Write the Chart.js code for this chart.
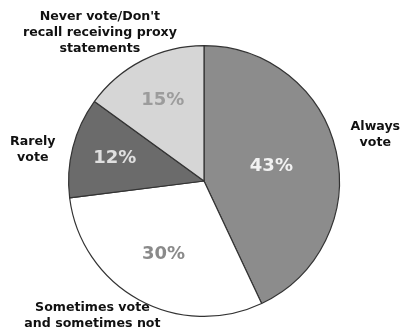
<!DOCTYPE html>
<html>
<head>
<meta charset="utf-8">
<script src="https://cdn.jsdelivr.net/npm/chart.js@4/dist/chart.umd.min.js"></script>
<style>
html,body{margin:0;padding:0;background:#fff;}
#c{display:block;}
</style>
</head>
<body>
<canvas id="c" width="403" height="336"></canvas>
<script>
// Data
const categories = [
  ["Always", "vote"],
  ["Sometimes vote", "and sometimes not"],
  ["Rarely", "vote"],
  ["Never vote/Don't", "recall receiving proxy", "statements"]
];
const values = [43, 30, 12, 15];
const valueLabels = ["43%", "30%", "12%", "15%"];

// Styles
const sliceColors = ["#8c8c8c", "#ffffff", "#6b6b6b", "#d6d6d6"];
const pctColors = ["#f2f2f2", "#8a8a8a", "#e0e0e0", "#9c9c9c"];
// inner label placement: radial distance factor along slice mid-angle
const pctDist = [0.51, 0.62, 0.68, 0.67];
// outer label placement: angle (deg clockwise from top), distance factor
const outerPos = [[75, 1.31], [219.7, 1.29], [280.2, 1.285], [325, 1.34]];

const labelPlugin = {
  id: 'labels',
  afterDatasetsDraw(chart) {
    const ctx = chart.ctx;
    const meta = chart.getDatasetMeta(0);
    ctx.save();
    ctx.textAlign = 'center';
    ctx.textBaseline = 'middle';
    meta.data.forEach((arc, i) => {
      const p = arc.getProps(['x', 'y', 'startAngle', 'endAngle', 'outerRadius'], true);
      const mid = (p.startAngle + p.endAngle) / 2;
      const r = p.outerRadius * pctDist[i];
      ctx.font = 'bold 18px "DejaVu Sans", sans-serif';
      ctx.fillStyle = pctColors[i];
      ctx.fillText(valueLabels[i], p.x + Math.cos(mid) * r, p.y + Math.sin(mid) * r);

      const a = outerPos[i][0] * Math.PI / 180;
      const d = p.outerRadius * outerPos[i][1];
      const cx = p.x + Math.sin(a) * d;
      const cy = p.y - Math.cos(a) * d;
      const lines = categories[i];
      const lh = 16;
      ctx.font = 'bold 12.6px "DejaVu Sans", sans-serif';
      ctx.fillStyle = '#111';
      lines.forEach((t, k) => {
        ctx.fillText(t, cx, cy + (k - (lines.length - 1) / 2) * lh);
      });
    });
    ctx.restore();
  }
};

new Chart(document.getElementById('c'), {
  type: 'pie',
  data: {
    labels: categories.map(c => c.join(' ')),
    datasets: [{
      data: values,
      backgroundColor: sliceColors,
      borderColor: '#333333',
      borderWidth: 1.2
    }]
  },
  options: {
    responsive: false,
    animation: false,
    rotation: 0,
    layout: { padding: { top: 45, bottom: 19, left: 68, right: 63 } },
    plugins: {
      legend: { display: false },
      tooltip: { enabled: false }
    }
  },
  plugins: [labelPlugin]
});
</script>
</body>
</html>
